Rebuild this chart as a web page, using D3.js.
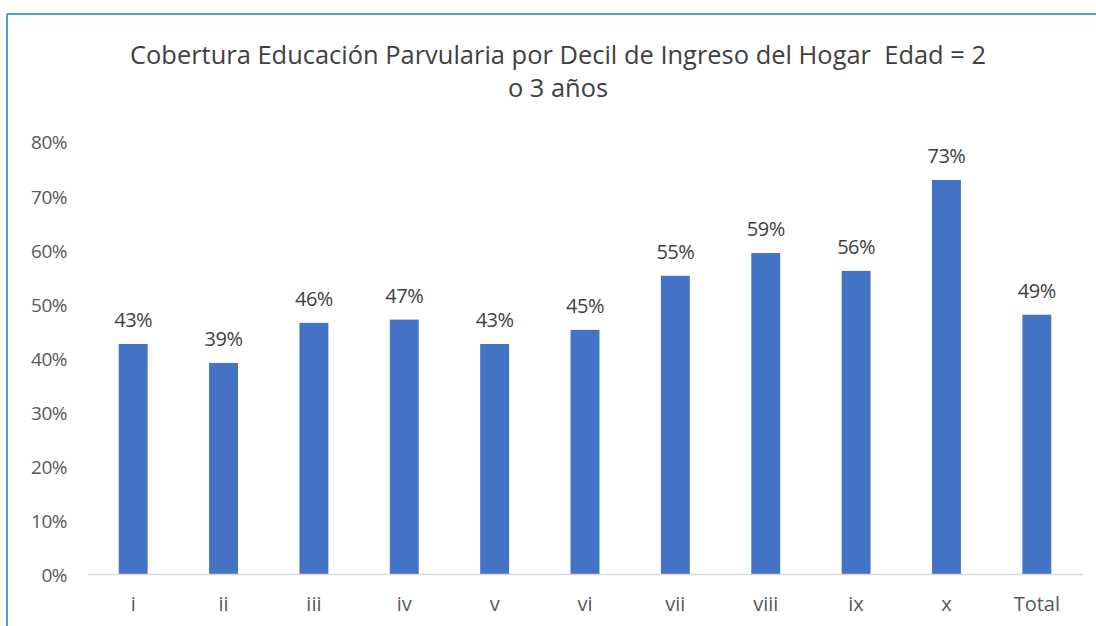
<!DOCTYPE html>
<html>
<head>
<meta charset="utf-8">
<script src="https://cdn.jsdelivr.net/npm/d3@7"></script>
<style>
  body { margin: 0; background: #fff; }
  svg { display: block; font-family: "Open Sans", "Noto Sans", sans-serif; }
</style>
</head>
<body>
<svg id="chart" width="1096" height="626"></svg>
<script>
// categories (income deciles + total)
var deciles = ["i", "ii", "iii", "iv", "v", "vi", "vii", "viii", "ix", "x", "Total"];
// bar heights
var coverage = [0.425, 0.39, 0.464, 0.47, 0.425, 0.451, 0.551, 0.593, 0.56, 0.728, 0.479];
// data labels as printed above each bar
var barLabels = ["43%", "39%", "46%", "47%", "43%", "45%", "55%", "59%", "56%", "73%", "49%"];
var yTicks = [0, 0.1, 0.2, 0.3, 0.4, 0.5, 0.6, 0.7, 0.8];
var titleLines = ["Cobertura Educación Parvularia por Decil de Ingreso del Hogar  Edad = 2", "o 3 años"];
var titleWidths = [856, 100];

var svg = d3.select("#chart");

// frame (only the top and left edge show in the crop)
svg.append("line").attr("x1", 7).attr("x2", 1096).attr("y1", 14).attr("y2", 14)
    .attr("stroke", "#5b9bd5").attr("stroke-width", 2);
svg.append("line").attr("x1", 7).attr("x2", 7).attr("y1", 14).attr("y2", 626)
    .attr("stroke", "#5b9bd5").attr("stroke-width", 2);

var x = d3.scaleBand().domain(deciles).range([88, 1082]).paddingInner(0.68).paddingOuter(0.34);
var y = d3.scaleLinear().domain([0, 0.8]).range([574, 141]);

// title, two lines squeezed to the width they have in the original
svg.selectAll("text.title").data(titleLines).enter().append("text")
    .attr("class", "title")
    .attr("x", 558)
    .attr("y", function(d, i){ return 64 + i * 33; })
    .attr("text-anchor", "middle")
    .attr("textLength", function(d, i){ return titleWidths[i]; })
    .attr("lengthAdjust", "spacingAndGlyphs")
    .attr("fill", "#404040")
    .style("font-size", "26px")
    .style("white-space", "pre")
    .text(function(d){ return d; });

// y axis, labels only
var yAxis = svg.append("g").attr("transform", "translate(67,0)")
    .call(d3.axisLeft(y).tickValues(yTicks).tickFormat(d3.format(".0%")).tickSize(0).tickPadding(0));
yAxis.select(".domain").remove();
yAxis.selectAll("text").attr("fill", "#595959").attr("dy", "0.42em")
    .style("font-size", "19px").style("letter-spacing", "-0.5px")
    .style("font-family", "'Open Sans', sans-serif");

// bars
svg.selectAll("rect.bar").data(coverage).enter().append("rect")
    .attr("class", "bar")
    .attr("x", function(d, i){ return x(deciles[i]); })
    .attr("width", x.bandwidth())
    .attr("y", function(d){ return y(d); })
    .attr("height", function(d){ return y(0) - y(d); })
    .attr("fill", "#4472c4");

// x axis
var xAxis = svg.append("g").attr("transform", "translate(0,574)")
    .call(d3.axisBottom(x).tickSize(0).tickPadding(23));
xAxis.select(".domain").attr("stroke", "#d9d9d9").attr("stroke-width", 1.5);
xAxis.selectAll("text").attr("fill", "#595959").style("font-size", "20px")
    .style("font-family", "'Open Sans', sans-serif");

// data labels
svg.selectAll("text.val").data(coverage).enter().append("text")
    .attr("class", "val")
    .attr("x", function(d, i){ return x(deciles[i]) + x.bandwidth() / 2; })
    .attr("y", function(d){ return y(d) - 17; })
    .attr("text-anchor", "middle")
    .attr("fill", "#404040")
    .style("font-size", "20px").style("letter-spacing", "-0.5px")
    .text(function(d, i){ return barLabels[i]; });
</script>
</body>
</html>
